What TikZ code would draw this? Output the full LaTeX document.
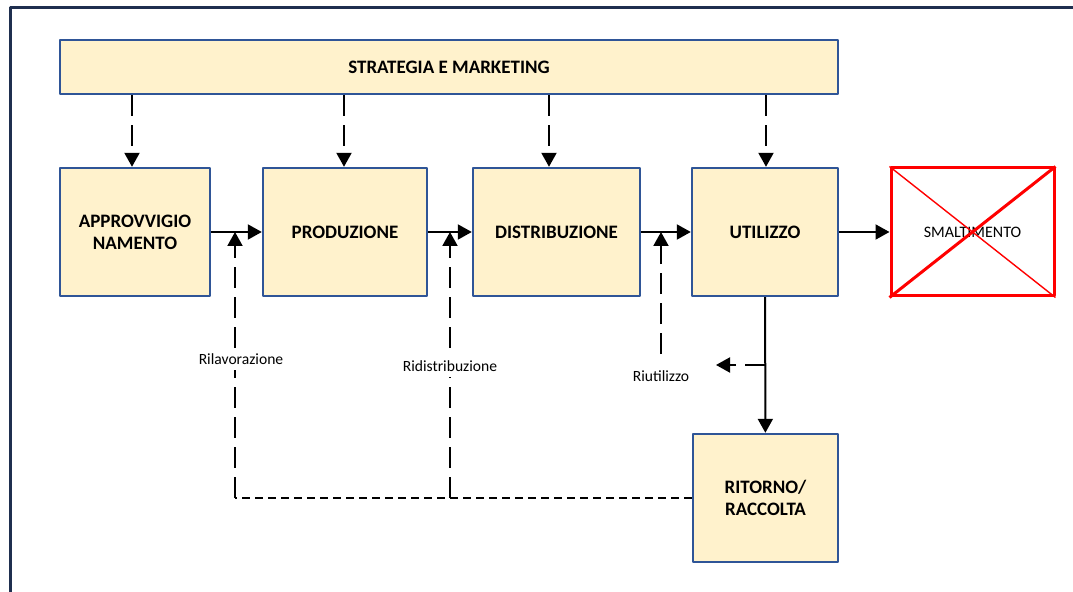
\documentclass[tikz,border=0pt]{standalone}
\usepackage{fontspec}
\setmainfont{Carlito}
\usetikzlibrary{arrows.meta}
\definecolor{boxfill}{HTML}{FFF2CC}
\definecolor{boxline}{HTML}{2F5597}
\definecolor{frameline}{HTML}{1F2F4F}
\begin{document}
\begin{tikzpicture}[x=0.5pt,y=-0.5pt,line join=round,>={Triangle[length=7pt,width=7.5pt]},
    fase/.style={draw=boxline,fill=boxfill,line width=1.2pt,font=\fontsize{9.5}{11}\selectfont\bfseries,align=center,inner sep=0pt,minimum height=64pt},
    flusso/.style={->,line width=1pt},
    tratto/.style={->,line width=1pt,dash pattern=on 10.5pt off 4.5pt},
    ritorno/.style={line width=0.8pt,dash pattern=on 4pt off 2.5pt},
    etichetta/.style={font=\fontsize{7.8}{9}\selectfont,inner sep=1pt}]
    \useasboundingbox (0,0) rectangle (1073,592);
    \draw[frameline,line width=1.5pt] (10,592) -- (10,8) -- (1073,8);
    \node[fase,minimum width=389pt,minimum height=27pt] (strat) at (449,67) {STRATEGIA E MARKETING};
    \node[fase,minimum width=75pt] (appr) at (135,232) {APPROVVIGIO\\NAMENTO};
    \node[fase,minimum width=82pt] (prod) at (345,232) {PRODUZIONE};
    \node[fase,minimum width=83.5pt] (dist) at (556.5,232) {DISTRIBUZIONE};
    \node[fase,minimum width=73pt] (util) at (765,232) {UTILIZZO};
    \node[draw=red,line width=1.5pt,minimum width=81.5pt,minimum height=64pt,font=\fontsize{8}{9}\selectfont] (smalt) at (972.5,232) {SMALTIMENTO};
    \draw[red,line width=0.7pt] (smalt.north west) -- (smalt.south east);
    \draw[red,line width=1.5pt] (smalt.north east) -- (smalt.south west);
    \node[fase,minimum width=72.5pt] (rit) at (765.5,498) {RITORNO/\\RACCOLTA};
    \foreach \n/\dx in {appr/-1.5pt,prod/-0.5pt,dist/-3.75pt,util/0.5pt}
        \draw[tratto] ([xshift=\dx]\n.north |- strat.south) -- ([xshift=\dx]\n.north);
    \draw[flusso] (appr) -- (prod);
    \draw[flusso] (prod) -- (dist);
    \draw[flusso] (dist) -- (util);
    \draw[flusso] (util) -- (smalt);
    \draw[flusso] (util) -- (rit);
    \coordinate (rila) at (235,498);
    \coordinate (ridi) at (450,498);
    \coordinate (diram) at (766,365);
    \coordinate (diramfine) at (716,365);
    \draw[ritorno] (rit.west) -- (ridi) -- (rila);
    \draw[tratto] (rila) -- (rila |- appr.east);
    \draw[tratto] (ridi) -- (ridi |- prod.east);
    \node[etichetta,fill=white,inner sep=3pt] (lrila) at (241,359) {Rilavorazione};
    \node[etichetta,fill=white,inner sep=3pt] (lridi) at (450,366) {Ridistribuzione};
    \node[etichetta] (lriut) at (661,376) {Riutilizzo};
    \draw[tratto,shorten <=7pt] (lriut.north) -- (lriut.north |- dist.east);
    \draw[tratto] (diram) -- (diramfine);
\end{tikzpicture}
\end{document}
